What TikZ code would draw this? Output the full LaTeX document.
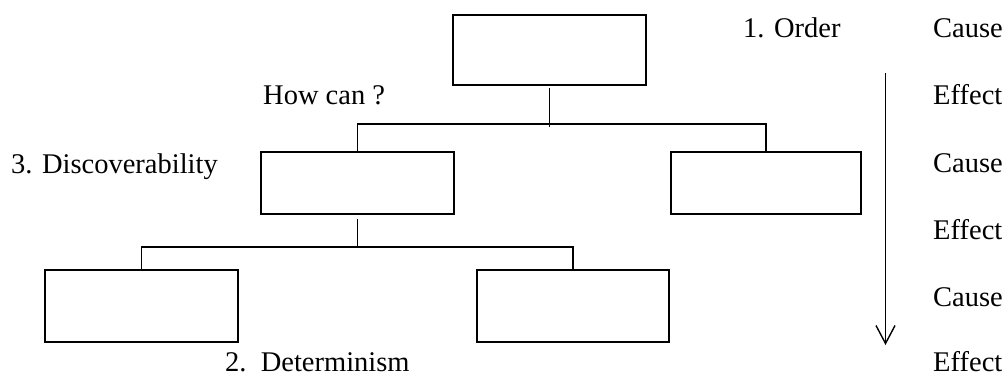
\documentclass[tikz,border=0pt]{standalone}
\usepackage{fontspec}
\setmainfont{Liberation Serif}
\usetikzlibrary{arrows.meta}
\begin{document}
\begin{tikzpicture}[x=1pt,y=-1pt,
  box/.style={draw=black,line width=2pt,rectangle,inner sep=0pt,minimum width=193pt,minimum height=70pt},
  conn/.style={draw=black,line width=1.6pt},
  lbl/.style={anchor=base west,inner sep=0pt,font=\fontsize{28.5}{32}\selectfont},
  flow/.style={draw=black,line width=1.4pt,-{Straight Barb[length=18pt,width=19pt,line width=1.4pt]}}]
\useasboundingbox (0,0) rectangle (1008,377);
% boxes
\node[box,minimum width=193pt,minimum height=70pt] (top) at (549.5,50) {};
\node[box,minimum width=193pt,minimum height=62pt] (ml) at (357.5,183) {};
\node[box,minimum width=190pt,minimum height=62pt] (mr) at (766,183) {};
\node[box,minimum width=193pt,minimum height=72pt] (bl) at (141.5,306) {};
\node[box,minimum width=192pt,minimum height=72pt] (br) at (573,306) {};
% junction levels
\coordinate (h1) at (0,124);
\coordinate (h2) at (0,247);
% connectors
\draw[conn] ([yshift=-2pt]top.south) -- ([yshift=-3pt]top.south |- h1);
\draw[conn] (ml.north) -- (ml.north |- h1) -- (mr.north |- h1) -- (mr.north);
\draw[conn] ([yshift=-4pt]ml.south) -- (ml.south |- h2);
\draw[conn] (bl.north) -- (bl.north |- h2) -- (br.north |- h2) -- (br.north);
% arrow
\coordinate (atop) at (885.5,73);
\coordinate (abot) at (885.5,345);
\draw[flow] (atop) -- (abot);
% labels
\node[lbl] (order) at (743,38) {1. Order};
\node[lbl] (c1) at (933,38) {Cause};
\node[lbl] (e1) at (933,105) {Effect};
\node[lbl] (c2) at (933,172) {Cause};
\node[lbl] (e2) at (933,239) {Effect};
\node[lbl] (c3) at (933,306) {Cause};
\node[lbl] (e3) at (933,371) {Effect};
\node[lbl] (how) at (263,105) {How can ?};
\node[lbl] (disc) at (11,173) {3. Discoverability};
\node[lbl] (det) at (225,371) {2.\ \ Determinism};
\end{tikzpicture}
\end{document}
